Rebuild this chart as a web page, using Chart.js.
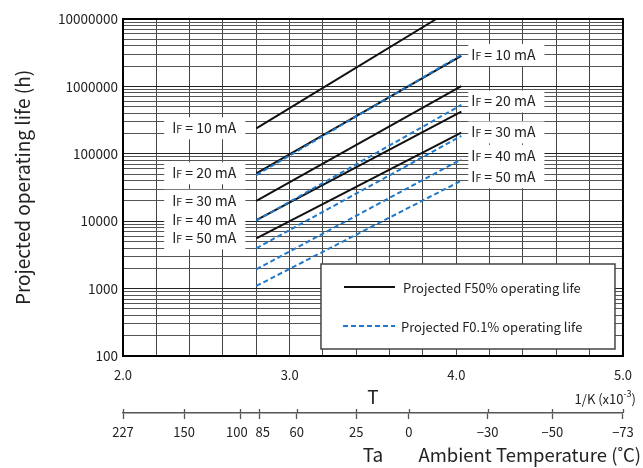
<!DOCTYPE html>
<html>
<head>
<meta charset="utf-8">
<script src="https://cdn.jsdelivr.net/npm/chart.js@4.4.0/dist/chart.umd.min.js"></script>
<style>
    html, body { margin: 0; padding: 0; background: #fff; }
</style>
</head>
<body>
<canvas id="lifeChart" width="643" height="468"></canvas>
<script>
// DATA
var currents = ['10', '20', '30', '40', '50'];          // IF in mA
var startX = [2.8, 2.8, 2.8, 2.8, 2.8];                 // 1/T (x10^-3 1/K)
var f50Start = [239000, 51400, 20100, 10400, 5570];      // hours
var f50EndX = [3.88, 4.03, 4.03, 4.03, 4.03];
var f50End = [10000000, 2830000, 1010000, 421000, 206000];
var f01Start = [48400, 10200, 3960, 1930, 1094];
var f01EndX = [4.03, 4.03, 4.03, 4.03, 4.03];
var f01End = [2930000, 530000, 184000, 82800, 39900];

var yDecades = [100, 1000, 10000, 100000, 1000000, 10000000];
// en spaces keep "100" and "85" apart like in the original
var taLabels = ['227', '150', '100\u2002', '\u200285', '60', '25', '0', '\u221230', '\u221250', '\u221273'];
var taPos = [2.0, 2.367, 2.703, 2.819, 3.042, 3.400, 3.715, 4.188, 4.576, 5.0];

var FONT = '"Noto Sans CJK JP", "Noto Sans", sans-serif';
var TEXT = '#222';
var BLUE = '#1f78c8';

Chart.defaults.font.family = FONT;
Chart.defaults.color = TEXT;

// BUILD DATASETS
var datasets = [];
currents.forEach(function (c, i) {
    datasets.push({
        label: 'F50 ' + c + ' mA',
        data: [{ x: startX[i], y: f50Start[i] }, { x: f50EndX[i], y: f50End[i] }],
        borderColor: '#111',
        borderWidth: 2,
        pointRadius: 0,
        fill: false,
        order: 1
    });
});
currents.forEach(function (c, i) {
    datasets.push({
        label: 'F0.1 ' + c + ' mA',
        data: [{ x: startX[i], y: f01Start[i] }, { x: f01EndX[i], y: f01End[i] }],
        borderColor: BLUE,
        borderWidth: 2,
        borderDash: [5, 3],
        pointRadius: 0,
        fill: false,
        order: 0
    });
});

// IF labels with small "F"
function drawIfLabel(ctx, current, x, y, align, padL, padR) {
    var big = '14px ' + FONT, small = '10.5px ' + FONT;
    var rest = ' = ' + current + ' mA';
    ctx.font = big;
    var wI = ctx.measureText('I').width;
    var wR = ctx.measureText(rest).width;
    ctx.font = small;
    var wF = ctx.measureText('F').width;
    var w = wI + wF + wR;
    var left = align === 'right' ? x - w : x;

    ctx.fillStyle = '#fff';
    ctx.fillRect(left - padL, y - 11, w + padL + padR, 22);

    ctx.fillStyle = TEXT;
    ctx.textAlign = 'left';
    ctx.textBaseline = 'alphabetic';
    var base = y + 5;
    ctx.font = big;
    ctx.fillText('I', left, base);
    ctx.font = small;
    ctx.fillText('F', left + wI, base);
    ctx.font = big;
    ctx.fillText(rest, left + wI + wF, base);
}

var annotations = {
    id: 'annotations',
    afterDatasetsDraw: function (chart) {
        var ctx = chart.ctx;
        var xs = chart.scales.x, ys = chart.scales.y;
        var a = chart.chartArea;
        ctx.save();

        // left labels at the F50 line starts
        currents.forEach(function (c, i) {
            var px = xs.getPixelForValue(startX[i]);
            var py = ys.getPixelForValue(f50Start[i]);
            drawIfLabel(ctx, c, px - 20, py, 'right', 8, 9);
        });
        // right labels at the F0.1 line ends
        currents.forEach(function (c, i) {
            var px = xs.getPixelForValue(f01EndX[i]);
            var py = ys.getPixelForValue(f01End[i]) - (i === 0 ? 0 : 3.5);
            drawIfLabel(ctx, c, px + 10, py, 'left', 3, 9);
        });

        // legend box
        var bx = a.right - 302, by = a.bottom - 92, bw = 294, bh = 85;
        ctx.fillStyle = '#fff';
        ctx.fillRect(bx, by, bw, bh);
        ctx.strokeStyle = '#444';
        ctx.lineWidth = 1.5;
        ctx.strokeRect(bx, by, bw, bh);

        var solid = chart.data.datasets[0], dashed = chart.data.datasets[5];
        ctx.lineWidth = 2;
        ctx.strokeStyle = solid.borderColor;
        ctx.setLineDash([]);
        ctx.beginPath();
        ctx.moveTo(bx + 23, by + 23);
        ctx.lineTo(bx + 74, by + 23);
        ctx.stroke();

        ctx.strokeStyle = dashed.borderColor;
        ctx.setLineDash(dashed.borderDash);
        ctx.beginPath();
        ctx.moveTo(bx + 22, by + 62);
        ctx.lineTo(bx + 74, by + 62);
        ctx.stroke();
        ctx.setLineDash([]);

        ctx.fillStyle = TEXT;
        ctx.font = '13px ' + FONT;
        ctx.textAlign = 'left';
        ctx.textBaseline = 'middle';
        ctx.fillText('Projected F50% operating life', bx + 82, by + 24);
        ctx.fillText('Projected F0.1% operating life', bx + 80, by + 63);

        // frame
        ctx.strokeStyle = '#000';
        ctx.lineWidth = 2;
        ctx.strokeRect(a.left, a.top, a.right - a.left, a.bottom - a.top);
        ctx.restore();
    },
    afterDraw: function (chart) {
        var ctx = chart.ctx;
        var x2 = chart.scales.x2;
        ctx.save();
        // upper half of the Ta tick marks
        ctx.strokeStyle = '#555';
        ctx.lineWidth = 1.3;
        taPos.forEach(function (v) {
            var px = Math.round(x2.getPixelForValue(v)) + 0.5;
            ctx.beginPath();
            ctx.moveTo(px, x2.top - 4);
            ctx.lineTo(px, x2.top);
            ctx.stroke();
        });

        // unit texts
        ctx.fillStyle = TEXT;
        ctx.textBaseline = 'middle';
        ctx.textAlign = 'left';
        ctx.font = '13px ' + FONT;
        var t1 = '1/K (x10', t2 = '-3', t3 = ')';
        var w1 = ctx.measureText(t1).width, w3 = ctx.measureText(t3).width;
        ctx.font = '9px ' + FONT;
        var w2 = ctx.measureText(t2).width;
        var right = 636, y = 399;
        var left = right - w1 - w2 - w3;
        ctx.font = '13px ' + FONT;
        ctx.fillText(t1, left, y);
        ctx.fillText(t3, left + w1 + w2, y);
        ctx.font = '9px ' + FONT;
        ctx.fillText(t2, left + w1, y - 5);

        ctx.font = '18.5px ' + FONT;
        ctx.textAlign = 'right';
        ctx.fillText('Ambient Temperature (\u02daC)', 641, 455);
        ctx.restore();
    }
};

var lifeCtx = document.getElementById('lifeChart').getContext('2d');
window.lifeChart = new Chart(lifeCtx, {
    type: 'line',
    data: { datasets: datasets },
    options: {
        responsive: false,
        animation: false,
        devicePixelRatio: 1,
        layout: { padding: { top: 19, right: 18, left: 0, bottom: 0 } },
        plugins: {
            legend: { display: false },
            tooltip: { enabled: false }
        },
        scales: {
            x: {
                type: 'linear',
                position: 'bottom',
                min: 2,
                max: 5,
                weight: 0,
                ticks: {
                    stepSize: 0.2,
                    autoSkip: false,
                    maxRotation: 0,
                    padding: 11,
                    font: { size: 13 },
                    callback: function (value) {
                        return Math.abs(value - Math.round(value)) < 1e-6 ? value.toFixed(1) : '';
                    }
                },
                grid: { color: '#444', lineWidth: 1, drawTicks: false },
                border: { display: false },
                title: { display: true, text: 'T', font: { size: 19 }, padding: { top: 0, bottom: 5 } },
                afterFit: function (scale) { scale.height = 57; }
            },
            x2: {
                type: 'linear',
                axis: 'x',
                position: 'bottom',
                min: 2,
                max: 5,
                weight: 1,
                afterBuildTicks: function (scale) {
                    scale.ticks = taPos.map(function (v) { return { value: v }; });
                },
                ticks: {
                    autoSkip: false,
                    maxRotation: 0,
                    padding: 5,
                    font: { size: 13 },
                    callback: function (value, index) { return taLabels[index]; }
                },
                grid: { display: true, drawOnChartArea: false, drawTicks: true, tickLength: 6, tickColor: '#555', tickWidth: 1.3 },
                border: { display: true, color: '#555', width: 1.5 },
                title: { display: true, text: 'Ta', font: { size: 19 }, padding: { top: 0, bottom: 2 } },
                afterFit: function (scale) { scale.height = 55; }
            },
            y: {
                type: 'logarithmic',
                min: 100,
                max: 10000000,
                afterBuildTicks: function (scale) {
                    var ticks = [];
                    for (var e = 2; e < 7; e++) {
                        for (var s = 1; s < 10; s++) {
                            ticks.push({ value: s * Math.pow(10, e) });
                        }
                    }
                    ticks.push({ value: 10000000 });
                    scale.ticks = ticks;
                },
                ticks: {
                    autoSkip: false,
                    padding: 5,
                    font: { size: 13.5 },
                    callback: function (value) {
                        return yDecades.indexOf(value) >= 0 ? String(value) : '';
                    }
                },
                grid: {
                    drawTicks: false,
                    lineWidth: 1,
                    color: function (context) {
                        return context.tick && yDecades.indexOf(context.tick.value) >= 0 ? '#222' : '#555';
                    }
                },
                border: { display: false },
                title: {
                    display: true,
                    text: 'Projected operating life (h)',
                    font: { size: 19 },
                    padding: { top: 11, bottom: 0 }
                },
                afterFit: function (scale) { scale.width = 123; }
            }
        }
    },
    plugins: [annotations]
});
</script>
</body>
</html>
